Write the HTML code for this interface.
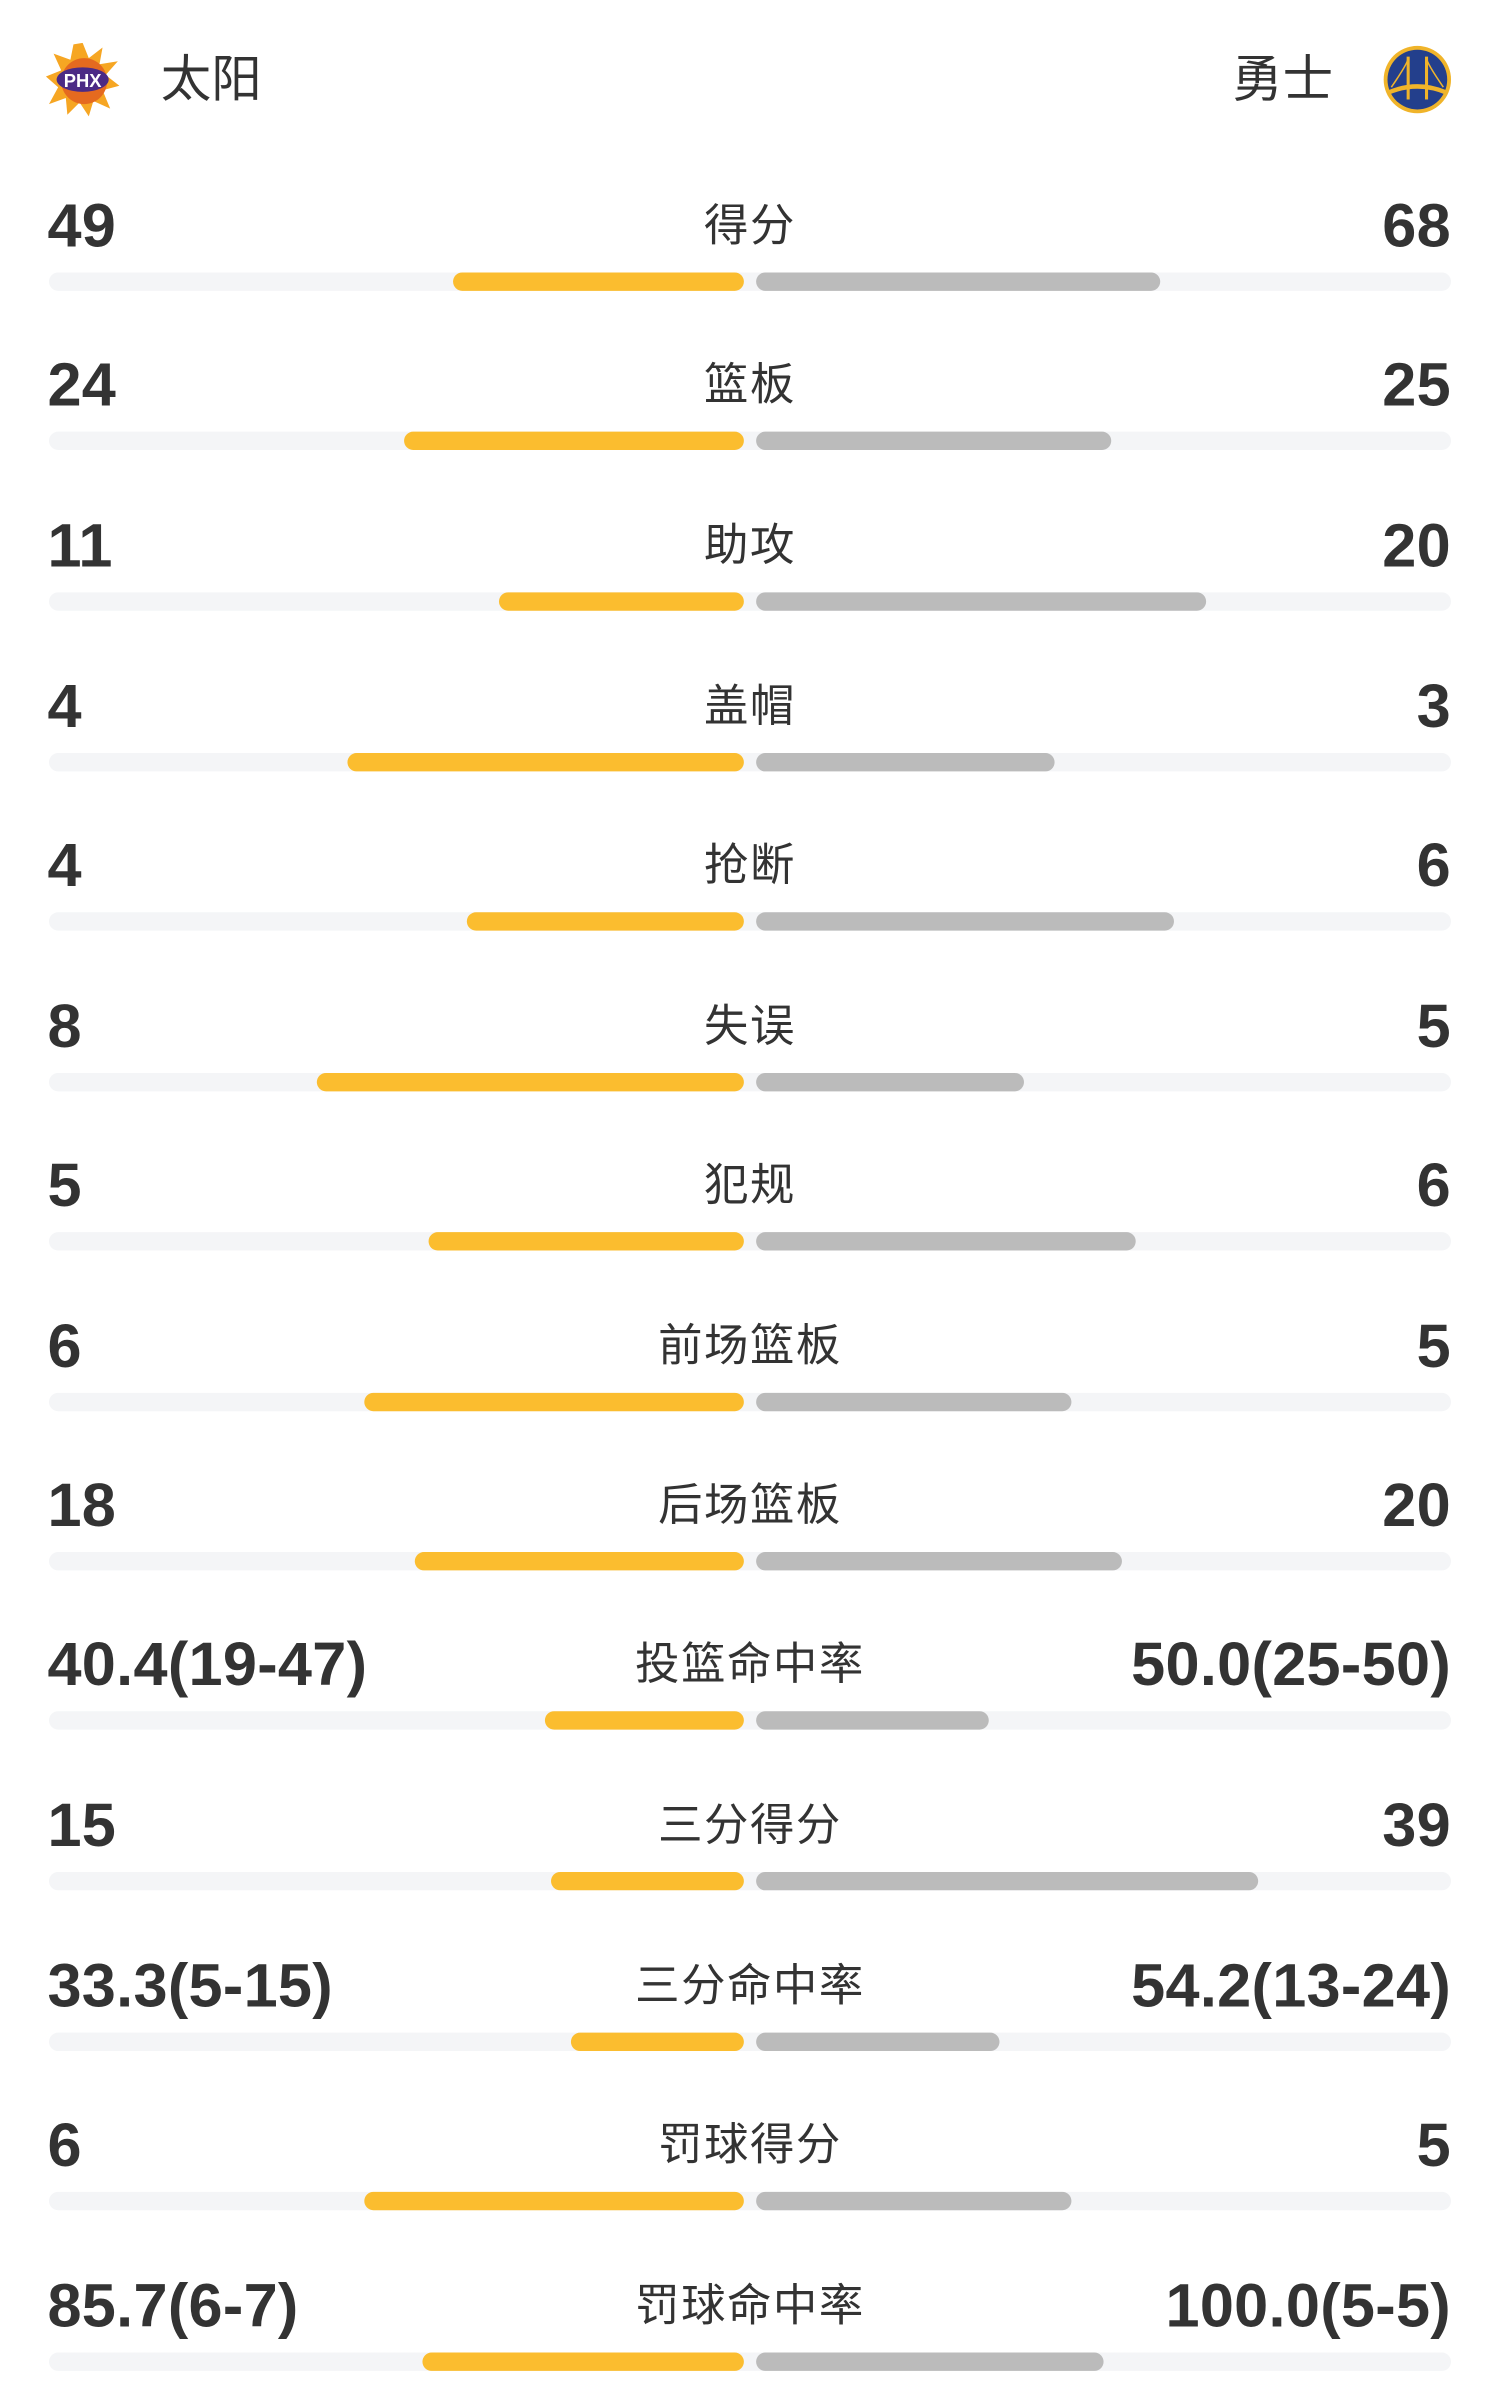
<!DOCTYPE html>
<html style="overflow:hidden"><head><meta charset="utf-8"><style>
html,body{margin:0;padding:0;background:#fff;width:1500px;height:2400px;overflow:hidden}
#s{position:absolute;left:0;top:0;width:980px;height:1568px;transform:scale(1.530612);transform-origin:0 0;font-family:"Liberation Sans","Noto Sans CJK SC",sans-serif;color:#333;overflow:hidden}
.t{position:absolute;font-size:33px;line-height:40px;top:32px}
.row{position:absolute;left:0;width:980px;height:100px}
.l,.r{position:absolute;top:0;font-size:40px;font-weight:bold;line-height:40px;letter-spacing:0.2px}
.l{left:31px}.r{right:32px}
.c{position:absolute;left:290px;width:400px;text-align:center;font-size:29px;line-height:40px;top:0;letter-spacing:1px}
.tr{position:absolute;left:32px;width:916px;top:50px;height:12px;background:#f4f5f7;border-radius:6px}
.o,.g{position:absolute;top:50px;height:12px;border-radius:6px}
.o{background:#fbbd2f}.g{background:#bbbbbb;left:494px}
</style></head><body><div id="s">
<svg style="position:absolute;left:30px;top:28px" width="48" height="48" viewBox="0 0 48 48">
<polygon points="24,0 28,10 37,3 35,14 47,12 39,21 48,28 37,31 42,43 31,38 28,48 22,39 14,47 13,36 2,40 8,29 0,22 10,18 5,7 16,11 18,1" fill="#f6a623"/>
<circle cx="25" cy="25" r="15" fill="#e56a1f"/>
<ellipse cx="24" cy="24" rx="17" ry="8" fill="#4b2a85"/>
<text x="24" y="29" font-size="12" font-weight="bold" fill="#fff" text-anchor="middle" font-family="Liberation Sans">PHX</text></svg>
<div class="t" style="left:105px">太阳</div>
<div class="t" style="left:805px">勇士</div>
<svg style="position:absolute;left:903px;top:29px" width="46" height="46" viewBox="0 0 46 46">
<circle cx="23" cy="23" r="22" fill="#f0b42a"/><circle cx="23" cy="23" r="19.5" fill="#233f8c"/>
<path d="M4 30 Q23 22 42 30 L42 33 Q23 25 4 33Z" fill="#f0b42a"/>
<rect x="16" y="8" width="2" height="28" fill="#f0b42a"/><rect x="28" y="8" width="2" height="28" fill="#f0b42a"/>
<path d="M6 28 Q17 12 17 9 M29 9 Q29 12 40 28" stroke="#f0b42a" fill="none"/></svg>

<div class="row" style="top:128px"><div class="l">49</div><div class="c">得分</div><div class="r">68</div><div class="tr"></div><div class="o" style="left:296px;width:190px"></div><div class="g" style="width:264px"></div></div>
<div class="row" style="top:232px"><div class="l">24</div><div class="c">篮板</div><div class="r">25</div><div class="tr"></div><div class="o" style="left:264px;width:222px"></div><div class="g" style="width:232px"></div></div>
<div class="row" style="top:337px"><div class="l">11</div><div class="c">助攻</div><div class="r">20</div><div class="tr"></div><div class="o" style="left:326px;width:160px"></div><div class="g" style="width:294px"></div></div>
<div class="row" style="top:442px"><div class="l">4</div><div class="c">盖帽</div><div class="r">3</div><div class="tr"></div><div class="o" style="left:227px;width:259px"></div><div class="g" style="width:195px"></div></div>
<div class="row" style="top:546px"><div class="l">4</div><div class="c">抢断</div><div class="r">6</div><div class="tr"></div><div class="o" style="left:305px;width:181px"></div><div class="g" style="width:273px"></div></div>
<div class="row" style="top:651px"><div class="l">8</div><div class="c">失误</div><div class="r">5</div><div class="tr"></div><div class="o" style="left:207px;width:279px"></div><div class="g" style="width:175px"></div></div>
<div class="row" style="top:755px"><div class="l">5</div><div class="c">犯规</div><div class="r">6</div><div class="tr"></div><div class="o" style="left:280px;width:206px"></div><div class="g" style="width:248px"></div></div>
<div class="row" style="top:860px"><div class="l">6</div><div class="c">前场篮板</div><div class="r">5</div><div class="tr"></div><div class="o" style="left:238px;width:248px"></div><div class="g" style="width:206px"></div></div>
<div class="row" style="top:964px"><div class="l">18</div><div class="c">后场篮板</div><div class="r">20</div><div class="tr"></div><div class="o" style="left:271px;width:215px"></div><div class="g" style="width:239px"></div></div>
<div class="row" style="top:1068px"><div class="l">40.4(19-47)</div><div class="c">投篮命中率</div><div class="r">50.0(25-50)</div><div class="tr"></div><div class="o" style="left:356px;width:130px"></div><div class="g" style="width:152px"></div></div>
<div class="row" style="top:1173px"><div class="l">15</div><div class="c">三分得分</div><div class="r">39</div><div class="tr"></div><div class="o" style="left:360px;width:126px"></div><div class="g" style="width:328px"></div></div>
<div class="row" style="top:1278px"><div class="l">33.3(5-15)</div><div class="c">三分命中率</div><div class="r">54.2(13-24)</div><div class="tr"></div><div class="o" style="left:373px;width:113px"></div><div class="g" style="width:159px"></div></div>
<div class="row" style="top:1382px"><div class="l">6</div><div class="c">罚球得分</div><div class="r">5</div><div class="tr"></div><div class="o" style="left:238px;width:248px"></div><div class="g" style="width:206px"></div></div>
<div class="row" style="top:1487px"><div class="l">85.7(6-7)</div><div class="c">罚球命中率</div><div class="r">100.0(5-5)</div><div class="tr"></div><div class="o" style="left:276px;width:210px"></div><div class="g" style="width:227px"></div></div>
</div></body></html>
